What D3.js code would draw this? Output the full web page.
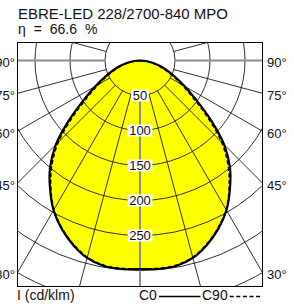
<!DOCTYPE html>
<html>
<head>
<meta charset="utf-8">
<script src="https://cdn.jsdelivr.net/npm/d3@7"></script>
<style>
  body { margin: 0; background: #fff; }
  text { font-family: 'Liberation Sans Narrow', 'Arial Narrow', sans-serif; fill: #111; }
</style>
</head>
<body>
<svg id="chart" width="294" height="304"></svg>
<script>
// MARK: Data.

const title      = 'EBRE-LED 228/2700-840 MPO'
const efficiency = 'η = 66.6 %'
const unitLabel  = 'I (cd/klm)'

// gamma angle from nadir (deg) and intensities (cd/klm)
const angles = [0, 5, 10, 15, 20, 25, 30, 35, 40, 45, 50, 55, 60, 65, 70, 75, 80, 85, 90]
const c0     = [298, 299, 298, 292, 280, 265, 247, 224, 200, 170, 132, 98, 74, 55, 41, 29, 18, 8, 0]
const c90    = [298, 298, 297, 291, 279, 264, 246, 222, 196, 165, 126, 92, 69, 51, 37, 26, 16, 7, 0]

const rings       = [50, 100, 150, 200, 250, 300, 350]
const ringLabels  = [50, 100, 150, 200, 250]
const angleLabels = [90, 75, 60, 45, 30]
const legend      = [{ name: 'C0', dash: null }, { name: 'C90', dash: '4,2.6' }]

// MARK: Layout.

const box = { left: 17.5, top: 42.5, right: 262.5, bottom: 286.5 }
const cx  = 140
const cy  = 60.5
const r   = d3.scaleLinear().domain([0, 50]).range([0, 35])
const rad = (deg) => deg * Math.PI / 180

const svg = d3.select('#chart')

svg.append('defs').append('clipPath').attr('id', 'box')
  .append('rect')
  .attr('x'     , box.left)
  .attr('y'     , box.top)
  .attr('width' , box.right - box.left)
  .attr('height', box.bottom - box.top)

// Full curve, left 90 -> nadir -> right 90. lineRadial measures from 12 o'clock, so flip by PI.
const curvePoints = (values) => {
  const left  = angles.map((a, i) => ({ phi: -a, v: values[i] })).reverse()
  const right = angles.map((a, i) => ({ phi: a, v: values[i] })).slice(1)
  return left.concat(right)
}
const line = d3.lineRadial()
  .angle ((d) => Math.PI - rad(d.phi))
  .radius((d) => r(d.v))
  .curve (d3.curveCatmullRom)

const plot = svg.append('g').attr('clip-path', 'url(#box)')
  .append('g').attr('transform', `translate(${cx},${cy})`)

plot.append('path')
  .attr('d'   , line(curvePoints(c0)) + 'Z')
  .attr('fill', '#ffff00')

// MARK: Grid.

plot.selectAll('circle.ring')
  .data(rings).enter()
  .append('circle')
  .attr('class'       , 'ring')
  .attr('r'           , (d) => r(d))
  .attr('fill'        , 'none')
  .attr('stroke'      , '#1a1a1a')
  .attr('stroke-width', 0.9)

const spokes = d3.range(0, 360, 15)
plot.selectAll('line.spoke')
  .data(spokes).enter()
  .append('line')
  .attr('class'       , 'spoke')
  .attr('x1'          , (a) => r(50) * Math.sin(rad(a)))
  .attr('y1'          , (a) => r(50) * Math.cos(rad(a)))
  .attr('x2'          , (a) => r(600) * Math.sin(rad(a)))
  .attr('y2'          , (a) => r(600) * Math.cos(rad(a)))
  .attr('stroke'      , (a) => a % 90 === 0 ? '#8c8c8c' : '#1a1a1a')
  .attr('stroke-width', (a) => a % 90 === 0 ? 2 : 0.9)

// MARK: Curves.

plot.append('path')
  .attr('d'           , line(curvePoints(c0)))
  .attr('fill'        , 'none')
  .attr('stroke'      , '#000')
  .attr('stroke-width', 2.2)

plot.append('path')
  .attr('d'               , line(curvePoints(c90)))
  .attr('fill'            , 'none')
  .attr('stroke'          , '#000')
  .attr('stroke-width'    , 1.6)
  .attr('stroke-dasharray', '4,2.6')

// MARK: Value labels on the nadir axis.

const ringTags = plot.selectAll('g.tag')
  .data(ringLabels).enter()
  .append('g')
  .attr('class'    , 'tag')
  .attr('transform', (d) => `translate(0,${r(d)})`)
ringTags.append('text')
  .attr('text-anchor', 'middle')
  .attr('dy'         , '0.36em')
  .attr('font-size'  , 13)
  .text((d) => d)
ringTags.each(function () {
  const b = d3.select(this).select('text').node().getBBox()
  d3.select(this).insert('rect', 'text')
    .attr('x'     , b.x - 1.5)
    .attr('y'     , -6)
    .attr('width' , b.width + 3)
    .attr('height', 12)
    .attr('fill'  , '#fff')
})

// MARK: Frame and texts.

svg.append('rect')
  .attr('x'           , box.left)
  .attr('y'           , box.top)
  .attr('width'       , box.right - box.left)
  .attr('height'      , box.bottom - box.top)
  .attr('fill'        , 'none')
  .attr('stroke'      , '#000')
  .attr('stroke-width', 1)

const edgeY = (a) => cy + (box.right - cx) / Math.tan(rad(a))
const sides = [{ x: 267, anchor: 'start' }, { x: 15, anchor: 'end' }]
sides.forEach((s) => {
  svg.selectAll(null)
    .data(angleLabels).enter()
    .append('text')
    .attr('x'          , s.x)
    .attr('y'          , (a) => (a === 90 ? cy : edgeY(a)) + 6.5)
    .attr('text-anchor', s.anchor)
    .attr('font-size'  , 13)
    .text((a) => `${a}°`)
})

svg.append('text')
  .attr('x'           , 18)
  .attr('y'           , 19)
  .attr('font-size'   , 14)
  .attr('textLength'  , 210)
  .attr('lengthAdjust', 'spacingAndGlyphs')
  .text(title)
svg.append('text')
  .attr('x'           , 18)
  .attr('y'           , 34)
  .attr('font-size'   , 14)
  .attr('word-spacing', 4)
  .text(efficiency)
svg.append('text')
  .attr('x'        , 17)
  .attr('y'        , 300)
  .attr('font-size', 14)
  .text(unitLabel)

// Legend: label then a sample line.
const legendX = [139, 202]
const legendEnd = [200.5, 261]
legend.forEach((d, i) => {
  const t = svg.append('text')
    .attr('x'        , legendX[i])
    .attr('y'        , 300)
    .attr('font-size', 14)
    .text(d.name)
  const w = t.node().getComputedTextLength()
  svg.append('line')
    .attr('x1'              , legendX[i] + w + 2)
    .attr('x2'              , legendEnd[i])
    .attr('y1'              , 296.5)
    .attr('y2'              , 296.5)
    .attr('stroke'          , '#000')
    .attr('stroke-width'    , 1.4)
    .attr('stroke-dasharray', d.dash)
})
</script>
</body>
</html>
